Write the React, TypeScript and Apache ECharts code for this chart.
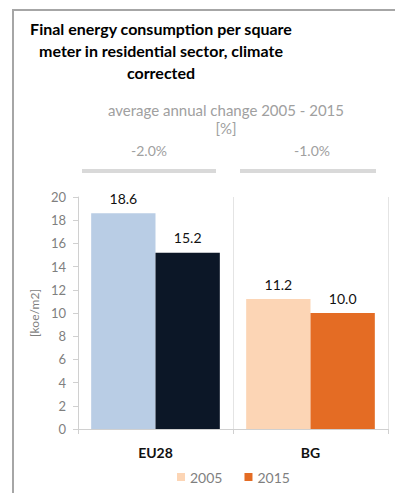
import React, { useEffect, useRef } from "react";
import * as echarts from "echarts";

const categories = ["EU28", "BG"];
const years = ["2005", "2015"];
const values2005 = [18.6, 11.2];
const values2015 = [15.2, 10.0];
const changeLabels = ["-2.0%", "-1.0%"];
const yTicks = { min: 0, max: 20, interval: 2 };

// EU28 bars use the blue palette, BG bars (and the legend) the orange one
const colors2005 = ["#b9cde5", "#fcd5b5"];
const colors2015 = ["#0c1727", "#e46c24"];

const FONT = "Lato, 'Open Sans', sans-serif";

export default function App() {
  const ref = useRef<HTMLDivElement>(null);

  useEffect(() => {
    document.body.style.margin = "0";
    if (!ref.current) return;
    const chart = echarts.init(ref.current, undefined, { renderer: "svg" });

    const mk = (vals: number[], cols: string[]) =>
      vals.map((v, i) => ({ value: v, itemStyle: { color: cols[i] } }));

    const valueLabel = {
      show: true,
      position: "top",
      color: "#111",
      fontSize: 14,
      distance: 8,
      fontFamily: FONT,
      formatter: (p: any) => Number(p.value).toFixed(1),
    };

    chart.setOption({
      animation: false,
      backgroundColor: "#ffffff",
      textStyle: { fontFamily: FONT },
      grid: { left: 78, right: 7, top: 197, bottom: 64 },
      legend: {
        data: years,
        bottom: 4,
        left: 172,
        itemWidth: 8,
        itemHeight: 8,
        itemGap: 22,
        icon: "rect",
        textStyle: { color: "#7f7f7f", fontSize: 14, fontFamily: FONT },
      },
      xAxis: {
        type: "category",
        data: categories,
        axisLine: { lineStyle: { color: "#d0d0d0" } },
        axisTick: { show: true, alignWithLabel: false, length: 5, lineStyle: { color: "#d0d0d0" } },
        splitLine: { show: true, lineStyle: { color: "#e4e4e4" } },
        axisLabel: { color: "#111", fontWeight: "bold", fontSize: 14, margin: 16, fontFamily: FONT },
      },
      yAxis: {
        type: "value",
        min: yTicks.min,
        max: yTicks.max,
        interval: yTicks.interval,
        name: "[koe/m2]",
        nameLocation: "middle",
        nameGap: 36,
        nameTextStyle: { color: "#7f7f7f", fontSize: 12, fontFamily: FONT },
        axisLine: { show: true, lineStyle: { color: "#d0d0d0" } },
        axisTick: { show: true, length: 5, lineStyle: { color: "#d0d0d0" } },
        splitLine: { show: false },
        axisLabel: { color: "#7f7f7f", fontSize: 13, margin: 12, fontFamily: FONT },
      },
      series: [
        {
          name: years[0],
          type: "bar",
          data: mk(values2005, colors2005),
          itemStyle: { color: colors2005[1] },
          barGap: "0%",
          barCategoryGap: "17%",
          label: valueLabel,
        },
        {
          name: years[1],
          type: "bar",
          data: mk(values2015, colors2015),
          itemStyle: { color: colors2015[1] },
          label: valueLabel,
        },
      ],
      graphic: [
        // outer frame
        { type: "rect", shape: { x: 13, y: 10, width: 420, height: 520 }, style: { fill: "none", stroke: "#a6a6a6", lineWidth: 2 } },
        {
          type: "text",
          x: 161,
          y: 17,
          style: {
            text: "Final energy consumption per square\nmeter in residential sector, climate\ncorrected",
            align: "center",
            fontFamily: FONT,
            fontWeight: "bold",
            fontSize: 16,
            lineHeight: 22,
            fill: "#000",
          },
        },
        {
          type: "text",
          x: 226,
          y: 101,
          style: {
            text: "average annual change 2005 - 2015\n[%]",
            align: "center",
            fontFamily: FONT,
            fontSize: 15,
            lineHeight: 18,
            fill: "#a0a0a0",
          },
        },
        { type: "text", x: 149, y: 143, style: { text: changeLabels[0], align: "center", fontFamily: FONT, fontSize: 14, fill: "#a0a0a0" } },
        { type: "text", x: 312, y: 143, style: { text: changeLabels[1], align: "center", fontFamily: FONT, fontSize: 14, fill: "#a0a0a0" } },
        { type: "rect", shape: { x: 82, y: 169, width: 134, height: 4 }, style: { fill: "#d9d9d9" } },
        { type: "rect", shape: { x: 240, y: 169, width: 136, height: 4 }, style: { fill: "#d9d9d9" } },
      ],
    });

    return () => chart.dispose();
  }, []);

  return <div ref={ref} style={{ width: 395, height: 493 }} />;
}
